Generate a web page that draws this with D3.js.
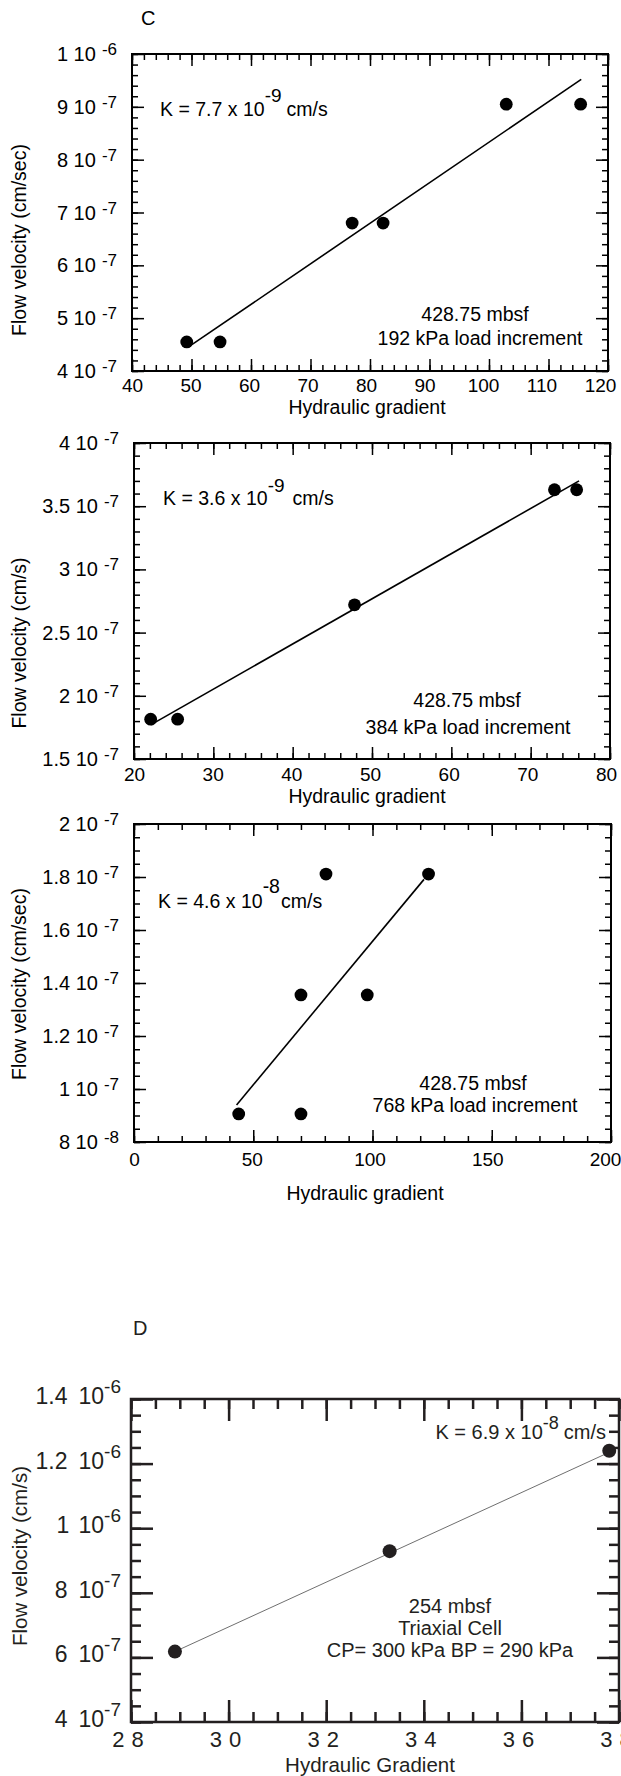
<!DOCTYPE html>
<html>
<head>
<meta charset="utf-8">
<script src="https://cdn.jsdelivr.net/npm/d3@7"></script>
<style>
    body { margin: 0; background: #fff; }
    svg { display: block; font-family: "Liberation Sans", Arial, sans-serif; }
</style>
</head>
<body>
<svg id="chart" width="621" height="1776"></svg>
<script>
// C, 192 kPa load increment
const grad192 = [49.2, 54.8, 77.0, 82.2, 102.9, 115.4]
const vel192 = [4.55e-7, 4.55e-7, 6.8e-7, 6.8e-7, 9.05e-7, 9.05e-7]
const fit192 = [[49.5, 4.455e-7], [115.5, 9.52e-7]]
const xTicks192 = [40, 50, 60, 70, 80, 90, 100, 110, 120]
const yTicks192 = [4e-7, 5e-7, 6e-7, 7e-7, 8e-7, 9e-7, 1e-6]

// C, 384 kPa load increment
const grad384 = [22.1, 25.5, 47.8, 73.0, 75.8]
const vel384 = [1.815e-7, 1.815e-7, 2.72e-7, 3.63e-7, 3.63e-7]
const fit384 = [[22.1, 1.77e-7], [76.1, 3.70e-7]]
const xTicks384 = [20, 30, 40, 50, 60, 70, 80]
const yTicks384 = [1.5e-7, 2e-7, 2.5e-7, 3e-7, 3.5e-7, 4e-7]

// C, 768 kPa load increment
const grad768 = [43.9, 70.0, 70.0, 80.5, 97.8, 123.5]
const vel768 = [9.06e-8, 9.06e-8, 1.355e-7, 1.811e-7, 1.355e-7, 1.811e-7]
const fit768 = [[43.0, 9.4e-8], [121.6, 1.791e-7]]
const xTicks768 = [0, 50, 100, 150, 200]
const yTicks768 = [8e-8, 1e-7, 1.2e-7, 1.4e-7, 1.6e-7, 1.8e-7, 2e-7]

// D, triaxial cell
const gradTri = [28.9, 33.3, 37.8]
const velTri = [6.18e-7, 9.29e-7, 1.24e-6]
const fitTri = [[28.9, 6.18e-7], [37.8, 1.235e-6]]
const xTicksTri = [28, 30, 32, 34, 36, 38]
const yTicksTri = [4e-7, 6e-7, 8e-7, 1e-6, 1.2e-6, 1.4e-6]

const svg = d3.select("#chart")

const steps = (dom, s) => d3.range(0, Math.round((dom[1] - dom[0]) / s) + 1).map(i => dom[0] + i * s)

function drawPanel(p) {
    const x = d3.scaleLinear().domain(p.xDomain).range([p.box.x0, p.box.x1])
    const y = d3.scaleLinear().domain(p.yDomain).range([p.box.y1, p.box.y0])
    const g = svg.append("g").attr("color", p.color).attr("fill", p.color)

    const xMinor = steps(p.xDomain, p.xMinor)
    const yMinor = steps(p.yDomain, p.yMinor)

    const sides = [
        [() => d3.axisBottom(x), `translate(0,${p.box.y1})`, xMinor, p.xTicks],
        [() => d3.axisTop(x), `translate(0,${p.box.y0})`, xMinor, p.xTicks],
        [() => d3.axisLeft(y), `translate(${p.box.x0},0)`, yMinor, p.yTicks],
        [() => d3.axisRight(y), `translate(${p.box.x1},0)`, yMinor, p.yTicks]
    ]
    sides.forEach(([mk, tr, minor, major]) => {
        g.append("g").attr("transform", tr)
            .call(mk().tickValues(minor).tickSize(-p.minorLen).tickFormat(""))
        g.append("g").attr("transform", tr)
            .call(mk().tickValues(major).tickSize(-p.majorLen).tickFormat(""))
    })
    g.selectAll(".domain").remove()
    g.selectAll(".tick line").attr("stroke-width", p.tickW)

    // frame
    g.append("rect")
        .attr("x", p.box.x0).attr("y", p.box.y0)
        .attr("width", p.box.x1 - p.box.x0).attr("height", p.box.y1 - p.box.y0)
        .attr("fill", "none").attr("stroke", p.color).attr("stroke-width", p.frameW)

    // x tick labels (the original drifts a little left towards the right end)
    const xl = g.append("g")
        .attr("transform", `translate(0,${p.box.y1})`)
        .call(d3.axisBottom(x).tickValues(p.xTicks).tickSize(0).tickPadding(p.xPad).tickFormat(d => d))
    xl.select(".domain").remove()
    xl.attr("font-size", null).attr("font-family", null)
    xl.selectAll("text")
        .attr("font-size", p.xFs)
        .attr("letter-spacing", p.xSpacing || null)
        .attr("dx", d => -(x(d) - p.box.x0) / (p.box.x1 - p.box.x0) * (p.xShift || 0))

    // y tick labels with superscript exponent
    p.yTicks.forEach(v => {
        const [m, e] = v.toExponential().split("e")
        const t = g.append("text")
            .attr("x", p.box.x0 - p.yLabelGap)
            .attr("y", y(v) + p.yBaseDy)
            .attr("text-anchor", "end")
            .attr("font-size", p.yFs)
        if (p.yWideGap) {
            t.append("tspan").text(m)
            t.append("tspan").attr("dx", p.yWideGap).text("10")
        } else {
            t.append("tspan").text(m + " 10")
        }
        t.append("tspan").attr("dx", p.supDx).attr("dy", -p.supRaise)
            .attr("font-size", p.supFs).text(e)
    })

    // axis titles
    g.append("text")
        .attr("x", p.xTitle[0]).attr("y", p.xTitle[1])
        .attr("text-anchor", "middle").attr("font-size", p.titleFs)
        .text(p.xTitle[2])
    g.append("text")
        .attr("transform", `translate(${p.yTitle[0]},${p.yTitle[1]}) rotate(-90)`)
        .attr("text-anchor", "middle").attr("font-size", p.titleFs)
        .text(p.yTitle[2])

    // fit line
    g.append("path")
        .datum(p.fit)
        .attr("d", d3.line().x(d => x(d[0])).y(d => y(d[1])))
        .attr("fill", "none").attr("stroke", p.lineColor).attr("stroke-width", p.lineW)

    // points
    g.selectAll(".pt")
        .data(p.xs.map((d, i) => [d, p.ys[i]]))
        .join("circle")
        .attr("class", "pt")
        .attr("cx", d => x(d[0])).attr("cy", d => y(d[1]))
        .attr("r", p.r)

    // K annotation
    const k = g.append("text")
        .attr("x", p.k.x).attr("y", p.k.y)
        .attr("text-anchor", p.k.anchor || "start")
        .attr("font-size", p.kFs)
    k.append("tspan").text(p.k.base)
    k.append("tspan").attr("dy", -p.k.raise).attr("font-size", p.k.supFs).text(p.k.exp)
    k.append("tspan").attr("dy", p.k.raise).attr("dx", p.k.gap).text("cm/s")

    // sample notes
    p.notes.forEach(n => {
        g.append("text")
            .attr("x", n[0]).attr("y", n[1])
            .attr("text-anchor", "middle").attr("font-size", p.annFs)
            .text(n[2])
    })
}

const baseC = {
    color: "#000", lineColor: "#000", lineW: 1.6, frameW: 2, tickW: 1.5,
    majorLen: 12, minorLen: 6, r: 6.4,
    xFs: 19, yFs: 20, supFs: 17, titleFs: 19.5, annFs: 19.5, kFs: 19.5,
    yLabelGap: 15, yBaseDy: 7, supDx: 6, supRaise: 6
}

drawPanel({
    ...baseC,
    box: { x0: 132, x1: 608, y0: 54, y1: 371 },
    xDomain: [40, 120], yDomain: [4e-7, 1e-6], xMinor: 2, yMinor: 2e-8,
    xTicks: xTicks192, yTicks: yTicks192, xPad: 8, xShift: 8,
    xs: grad192, ys: vel192, fit: fit192,
    xTitle: [367, 414, "Hydraulic gradient"],
    yTitle: [26, 240, "Flow velocity (cm/sec)"],
    k: { x: 160, y: 116, base: "K = 7.7 x 10", exp: "-9", raise: 14, supFs: 19, gap: 5 },
    notes: [[475, 321, "428.75 mbsf"], [480, 345, "192 kPa load increment"]]
})

drawPanel({
    ...baseC,
    box: { x0: 134, x1: 610, y0: 443, y1: 759 },
    xDomain: [20, 80], yDomain: [1.5e-7, 4e-7], xMinor: 2, yMinor: 1e-8,
    xTicks: xTicks384, yTicks: yTicks384, xPad: 9, xShift: 4,
    xs: grad384, ys: vel384, fit: fit384,
    xTitle: [367, 803, "Hydraulic gradient"],
    yTitle: [26, 643, "Flow velocity (cm/s)"],
    k: { x: 163, y: 505, base: "K = 3.6 x 10", exp: "-9", raise: 13, supFs: 19, gap: 8 },
    notes: [[467, 707, "428.75 mbsf"], [468, 734, "384 kPa load increment"]]
})

drawPanel({
    ...baseC,
    box: { x0: 134, x1: 611, y0: 824, y1: 1142 },
    xDomain: [0, 200], yDomain: [8e-8, 2e-7], xMinor: 10, yMinor: 5e-9,
    xTicks: xTicks768, yTicks: yTicks768, xPad: 11, xShift: 6,
    xs: grad768, ys: vel768, fit: fit768,
    xTitle: [365, 1200, "Hydraulic gradient"],
    yTitle: [26, 984, "Flow velocity (cm/sec)"],
    k: { x: 158, y: 908, base: "K = 4.6 x 10", exp: "-8", raise: 15, supFs: 19.5, gap: 1 },
    notes: [[473, 1090, "428.75 mbsf"], [475, 1112, "768 kPa load increment"]]
})

drawPanel({
    color: "#231f20", lineColor: "#4a4a4a", lineW: 0.8, frameW: 2.5, tickW: 2.5,
    majorLen: 22, minorLen: 10, r: 7,
    box: { x0: 131, x1: 619, y0: 1399, y1: 1722 },
    xDomain: [28, 38], yDomain: [4e-7, 1.4e-6], xMinor: 0.5, yMinor: 5e-8,
    xTicks: xTicksTri, yTicks: yTicksTri, xPad: 9, xSpacing: "7px",
    xFs: 22, yFs: 23, supFs: 19, titleFs: 20.5, annFs: 20, kFs: 20,
    yLabelGap: 10, yBaseDy: 5, supDx: 0, supRaise: 11, yWideGap: 11,
    xs: gradTri, ys: velTri, fit: fitTri,
    xTitle: [370, 1772, "Hydraulic Gradient"],
    yTitle: [27, 1556, "Flow velocity (cm/s)"],
    k: { x: 606, y: 1439, anchor: "end", base: "K = 6.9 x 10", exp: "-8", raise: 10, supFs: 18, gap: 5 },
    notes: [[450, 1613, "254 mbsf"], [450, 1635, "Triaxial Cell"], [450, 1657, "CP= 300 kPa BP = 290 kPa"]]
})

// panel letters
svg.append("text").attr("x", 141).attr("y", 25).attr("font-size", 20).text("C")
svg.append("text").attr("x", 133).attr("y", 1335).attr("font-size", 20).attr("fill", "#231f20").text("D")
</script>
</body>
</html>
